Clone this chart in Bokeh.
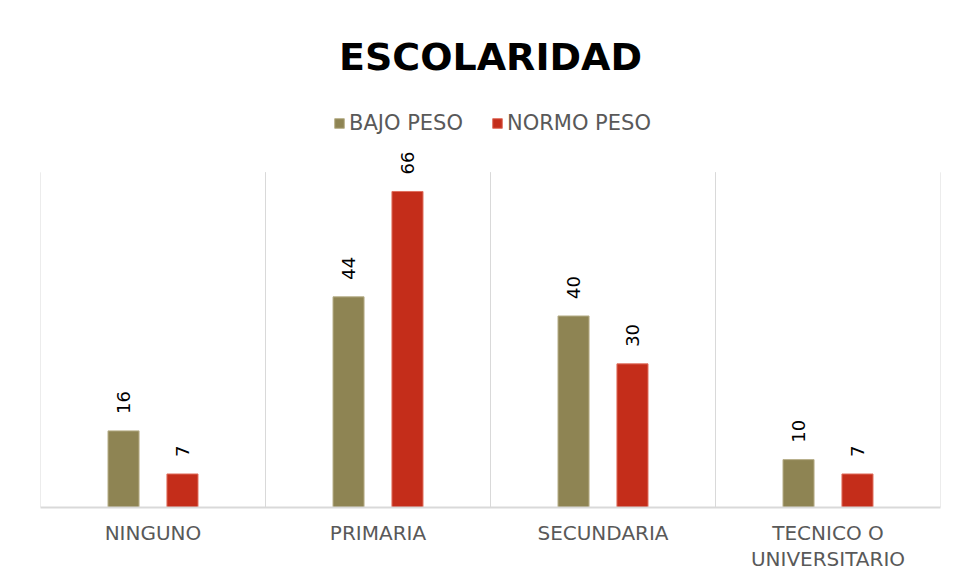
import math
from bokeh.plotting import figure
from bokeh.models import (ColumnDataSource, Legend, LegendItem, LabelSet, Range1d,
                          CategoricalAxis, FactorRange)
from bokeh.core.properties import value
from bokeh.transform import dodge
from bokeh.embed import file_html
from bokeh.resources import INLINE

categories = ["NINGUNO", "PRIMARIA", "SECUNDARIA", "TECNICO O UNIVERSITARIO"]
tick_labels = ["NINGUNO", "PRIMARIA", "SECUNDARIA", "TECNICO O\nUNIVERSITARIO"]
bajo_peso = [16, 44, 40, 10]
normo_peso = [7, 66, 30, 7]
series_names = ["BAJO PESO", "NORMO PESO"]
colors = ["#8E8453", "#C42D1A"]
grid_top = [70] * len(categories)

src = ColumnDataSource(data=dict(cats=categories, bajo=bajo_peso, normo=normo_peso,
                                 bajo_lbl=[str(v) for v in bajo_peso],
                                 normo_lbl=[str(v) for v in normo_peso],
                                 y0=[0] * len(categories), y1=grid_top))

p = figure(x_range=FactorRange(factors=categories, range_padding=0),
           y_range=Range1d(0, 85), width=954, height=573,
           output_backend="svg", toolbar_location=None, x_axis_location=None,
           min_border_left=40, min_border_right=14, min_border_bottom=0, min_border_top=100)
p.extra_x_ranges = {"lbl": FactorRange(factors=tick_labels, range_padding=0)}

# category separators
for off in (-0.5, 0.5):
    p.segment(x0=dodge("cats", off, range=p.x_range), y0="y0",
              x1=dodge("cats", off, range=p.x_range), y1="y1",
              source=src, line_color="#D9D9D9", line_width=1)

w = 0.138
r1 = p.vbar(x=dodge("cats", -0.131, range=p.x_range), top="bajo", width=w, source=src,
            fill_color=colors[0], line_color="#B8B08A", line_width=1)
r2 = p.vbar(x=dodge("cats", 0.131, range=p.x_range), top="normo", width=w, source=src,
            fill_color=colors[1], line_color="#E0705F", line_width=1)

for col, lbl, off in (("bajo", "bajo_lbl", -0.131), ("normo", "normo_lbl", 0.131)):
    ls = LabelSet(x=dodge("cats", off, range=p.x_range), y=col, text=lbl, source=src,
                  angle=math.pi / 2, text_align="left", text_baseline="middle",
                  y_offset=17, text_font=value("DejaVu Sans"), text_font_size="18px",
                  text_color="#000000")
    p.add_layout(ls)

p.title.text = "ESCOLARIDAD"
p.title.align = "center"
p.title.text_font = "DejaVu Sans"
p.title.text_font_style = "bold"
p.title.text_font_size = "38px"
p.title.text_color = "#000000"
p.title.offset = 0
p.title.standoff = 43

legend = Legend(items=[LegendItem(label=series_names[0], renderers=[r1]),
                       LegendItem(label=series_names[1], renderers=[r2])],
                orientation="horizontal", location=(293, 372),
                label_text_font="DejaVu Sans", label_text_font_size="21px",
                label_text_color="#595959", glyph_width=12, glyph_height=12,
                label_standoff=4, spacing=28, border_line_color=None,
                background_fill_alpha=0, margin=0, padding=4)
p.add_layout(legend, "center")

p.yaxis.visible = False
p.ygrid.visible = False
p.xgrid.visible = False
p.outline_line_color = None

ax = CategoricalAxis(x_range_name="lbl", axis_line_color="#D9D9D9", axis_line_width=2,
                     major_tick_line_color=None, minor_tick_line_color=None,
                     major_label_text_font="DejaVu Sans", major_label_text_font_size="20px",
                     major_label_text_color="#595959", major_label_standoff=7,
                     major_label_text_line_height=1.1)
p.add_layout(ax, "below")

open("out.html", "w").write(file_html(p, INLINE))
